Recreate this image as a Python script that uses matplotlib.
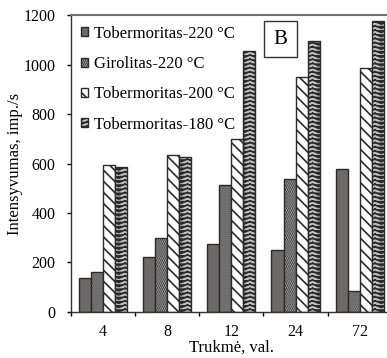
import matplotlib
matplotlib.use("Agg")
import matplotlib.pyplot as plt
import matplotlib.hatch as mhatch
import numpy as np
from matplotlib.patches import Rectangle
from matplotlib.path import Path

# duomenys
trukme = ["4", "8", "12", "24", "72"]
tob_220 = [137, 222, 273, 250, 577]
gir_220 = [159, 300, 514, 536, 85]
tob_200 = [596, 634, 698, 949, 988]
tob_180 = [585, 625, 1057, 1097, 1178]

serijos = [
    ("Tobermoritas-220 °C", tob_220, "#6e6868", ""),
    ("Girolitas-220 °C", gir_220, "#c4c4c4", "........"),
    ("Tobermoritas-200 °C", tob_200, "#ffffff", "\\\\\\"),
    ("Tobermoritas-180 °C", tob_180, "#c2c2c2", "||||"),
]


# "|" brukšniavimą pakeičiam į eglutes (V formos)
class ChevronHatch(mhatch.HatchPatternBase):
    def __init__(self, hatch, density):
        self.rows = (hatch.count("|") + hatch.count("+")) * density
        self.cols = 8
        self.num_vertices = self.rows * self.cols * 3

    def set_vertices_and_codes(self, vertices, codes):
        w = 1.0 / self.cols
        d = 0.6 / self.rows
        k = 0
        for i in range(self.rows):
            y0 = (i + 0.5) / self.rows + d / 2
            for j in range(self.cols):
                x0 = j * w
                vertices[k:k + 3] = [(x0, y0), (x0 + w / 2, y0 - d), (x0 + w, y0)]
                codes[k:k + 3] = [Path.MOVETO, Path.LINETO, Path.LINETO]
                k += 3


mhatch._hatch_types[mhatch._hatch_types.index(mhatch.VerticalHatch)] = ChevronHatch

plt.rcParams["font.family"] = ["Liberation Serif", "DejaVu Serif"]
plt.rcParams["hatch.linewidth"] = 1.2

fig = plt.figure(figsize=(3.87, 3.58), dpi=100)
ax = fig.add_axes([0.1827, 0.1293, 0.830, 0.8279])

x = np.arange(len(trukme))
plotis = 0.1875
for i, (vardas, reiksmes, spalva, rastas) in enumerate(serijos):
    ax.bar(x + (i - 1.5) * plotis, reiksmes, width=plotis, color=spalva,
           edgecolor="#2a2a2a", linewidth=1.0, hatch=rastas, label=vardas)

ax.set_xlim(-0.5, len(trukme) - 0.5)
ax.set_ylim(0, 1200)
ax.set_yticks(range(0, 1201, 200))

ax.set_xticks(x)
ax.set_xticklabels(trukme)
ax.set_xticks(np.arange(-0.5, len(trukme)), minor=True)
ax.tick_params(axis="x", which="major", length=0, pad=8.5, labelsize=11.5)
ax.tick_params(axis="x", which="minor", length=3, width=1, direction="out")
ax.tick_params(axis="y", length=3, width=1, direction="out", labelsize=11.5, pad=8)

for s in ["left", "bottom", "right"]:
    ax.spines[s].set_color("#333333")
    ax.spines[s].set_linewidth(1.0)
ax.spines["top"].set_color("#707070")
ax.spines["top"].set_linewidth(1.5)

ax.set_ylabel("Intensyvumas, imp./s", fontsize=12, labelpad=0)
ax.set_xlabel("Trukmė, val.", fontsize=12, labelpad=0)

ax.legend(loc="upper left", bbox_to_anchor=(0.032, 0.965), frameon=False,
          fontsize=12, handlelength=0.45, handleheight=0.45, handletextpad=0.36,
          labelspacing=0.86, borderpad=0, borderaxespad=0)

# raidė B rėmelyje
ax.add_patch(Rectangle((0.6016, 0.8593), 0.1027, 0.1215, transform=ax.transAxes,
                       facecolor="white", edgecolor="#333333", linewidth=1.0, zorder=3))
ax.text(0.653, 0.918, "B", transform=ax.transAxes, fontsize=15,
        ha="center", va="center", zorder=4)

fig.savefig("out.png", dpi=100)
